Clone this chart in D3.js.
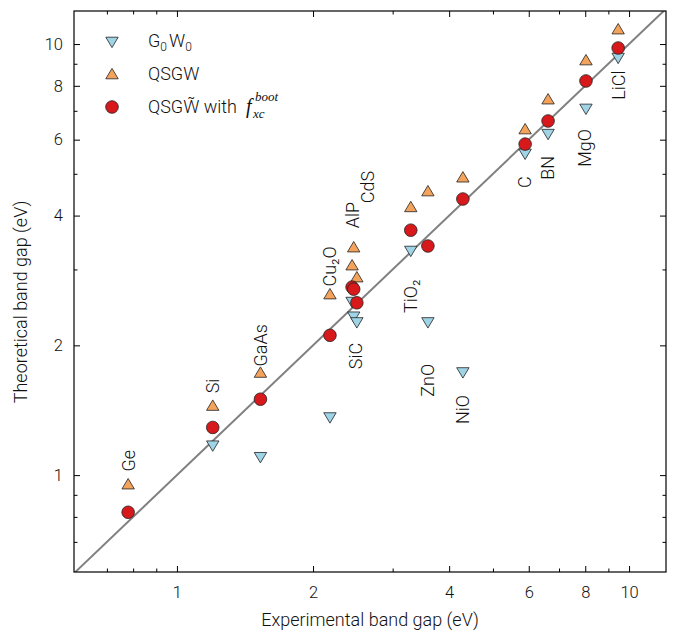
<!DOCTYPE html>
<html>
<head>
<meta charset="utf-8">
<script src="https://cdnjs.cloudflare.com/ajax/libs/d3/7.8.5/d3.min.js"></script>
<style>
  html, body { margin: 0; padding: 0; background: #fff; }
  svg text { font-family: Roboto, 'Liberation Sans', Arial, sans-serif; font-weight: 300; fill: #111; }
</style>
</head>
<body>
<div id="chart"></div>
<script>
// band gaps in eV
var materials = ['Ge', 'Si', 'GaAs', 'Cu\u2082O', 'SiC', 'AlP', 'CdS', 'TiO\u2082', 'ZnO', 'NiO', 'C', 'BN', 'MgO', 'LiCl'];
var experimental = [0.78, 1.20, 1.53, 2.18, 2.44, 2.46, 2.50, 3.29, 3.59, 4.29, 5.89, 6.62, 8.03, 9.46];
var g0w0 = [null, 1.17, 1.10, 1.36, 2.52, 2.33, 2.26, 3.31, 2.26, 1.73, 5.56, 6.18, 7.07, 9.28];
var qsgw = [0.953, 1.45, 1.73, 2.63, 3.07, 3.38, 2.88, 4.19, 4.56, 4.91, 6.35, 7.45, 9.18, 10.83];
var qsgwBoot = [0.82, 1.29, 1.50, 2.11, 2.73, 2.70, 2.51, 3.70, 3.40, 4.37, 5.86, 6.63, 8.21, 9.79];
// where each material name sits, in eV (x, y)
var labelX = [0.78, 1.20, 1.53, 2.18, 2.48, 2.45, 2.64, 3.29, 3.59, 4.29, 5.86, 6.60, 7.98, 9.50];
var labelY = [1.08, 1.61, 2.00, 3.05, 1.89, 4.01, 4.66, 2.60, 1.66, 1.42, 4.78, 5.16, 5.74, 8.03];

var xTicks = [1, 2, 4, 6, 8, 10];
var yTicks = [1, 2, 4, 6, 8, 10];
var minorTicks = [0.7, 0.8, 0.9, 3, 5, 7, 9];

var width = 674, height = 634;
var margin = { top: 11, right: 8, bottom: 62, left: 74 };
var plotW = width - margin.left - margin.right;
var plotH = height - margin.top - margin.bottom;

var x = d3.scaleLog().domain([0.592, 12.07]).range([0, plotW]);
var y = d3.scaleLog().domain([0.596, 11.93]).range([plotH, 0]);

var sans = "Roboto, 'Liberation Sans', Arial, sans-serif";
var serif = "'Liberation Serif', 'DejaVu Serif', serif";

var svg = d3.select('#chart').append('svg')
  .attr('width', width)
  .attr('height', height);

var g = svg.append('g')
  .attr('transform', 'translate(' + margin.left + ',' + margin.top + ')');

g.append('clipPath').attr('id', 'plot-clip')
  .append('rect').attr('width', plotW).attr('height', plotH);

// y = x reference line
var diag = d3.line()
  .x(function(d) { return x(d); })
  .y(function(d) { return y(d); });
g.append('path')
  .datum([0.5, 14])
  .attr('clip-path', 'url(#plot-clip)')
  .attr('d', diag)
  .attr('fill', 'none')
  .attr('stroke', '#808080')
  .attr('stroke-width', 2);

// axes: ticks point inward on all four sides
function styleAxis(sel) {
  sel.select('.domain').remove();
  sel.selectAll('line').attr('stroke', '#000').attr('stroke-width', 1);
  sel.selectAll('text').attr('font-size', 16.5).attr('fill', '#111')
    .style('font-family', sans).style('font-weight', 300);
}

g.append('g').attr('transform', 'translate(0,' + plotH + ')')
  .call(d3.axisBottom(x).tickValues(xTicks).tickFormat(d3.format('d')).tickSize(-6).tickPadding(14))
  .call(styleAxis);
g.append('g').attr('transform', 'translate(0,' + plotH + ')')
  .call(d3.axisBottom(x).tickValues(minorTicks).tickFormat('').tickSize(-3.5))
  .call(styleAxis);
g.append('g')
  .call(d3.axisTop(x).tickValues(xTicks).tickFormat('').tickSize(-6))
  .call(styleAxis);
g.append('g')
  .call(d3.axisTop(x).tickValues(minorTicks).tickFormat('').tickSize(-3.5))
  .call(styleAxis);

g.append('g')
  .call(d3.axisLeft(y).tickValues(yTicks).tickFormat(d3.format('d')).tickSize(-6).tickPadding(11))
  .call(styleAxis);
g.append('g')
  .call(d3.axisLeft(y).tickValues(minorTicks).tickFormat('').tickSize(-3.5))
  .call(styleAxis);
g.append('g').attr('transform', 'translate(' + plotW + ',0)')
  .call(d3.axisRight(y).tickValues(yTicks).tickFormat('').tickSize(-6))
  .call(styleAxis);
g.append('g').attr('transform', 'translate(' + plotW + ',0)')
  .call(d3.axisRight(y).tickValues(minorTicks).tickFormat('').tickSize(-3.5))
  .call(styleAxis);

g.append('rect')
  .attr('width', plotW)
  .attr('height', plotH)
  .attr('fill', 'none')
  .attr('stroke', '#000')
  .attr('stroke-width', 1.2);

// markers
var triDown = 'M-6.2,-4.8L6.2,-4.8L0,5.6Z';
var triUp = 'M-6.2,4.8L6.2,4.8L0,-5.6Z';
var colG0W0 = '#9fd3e6', colQSGW = '#f4a35c', colBoot = '#d7191c';

function pts(vals) {
  return vals.map(function(v, i) { return { x: experimental[i], y: v }; })
    .filter(function(d) { return d.y != null; });
}

g.append('g').selectAll('path')
  .data(pts(g0w0))
  .join('path')
  .attr('transform', function(d) { return 'translate(' + x(d.x) + ',' + y(d.y) + ')'; })
  .attr('d', triDown)
  .attr('fill', colG0W0)
  .attr('stroke', '#222')
  .attr('stroke-width', 0.8);

g.append('g').selectAll('path')
  .data(pts(qsgw))
  .join('path')
  .attr('transform', function(d) { return 'translate(' + x(d.x) + ',' + y(d.y) + ')'; })
  .attr('d', triUp)
  .attr('fill', colQSGW)
  .attr('stroke', '#222')
  .attr('stroke-width', 0.8);

g.append('g').selectAll('circle')
  .data(pts(qsgwBoot))
  .join('circle')
  .attr('cx', function(d) { return x(d.x); })
  .attr('cy', function(d) { return y(d.y); })
  .attr('r', 6.3)
  .attr('fill', colBoot)
  .attr('stroke', '#222')
  .attr('stroke-width', 0.8);

// material names, rotated
g.append('g').selectAll('text')
  .data(materials)
  .join('text')
  .attr('transform', function(d, i) {
    return 'translate(' + x(labelX[i]) + ',' + y(labelY[i]) + ') rotate(-90)';
  })
  .attr('text-anchor', 'middle')
  .attr('dominant-baseline', 'central')
  .attr('font-size', 18)
  .text(function(d) { return d; });

// legend
var legend = svg.append('g').attr('transform', 'translate(112,0)');
legend.append('path').attr('transform', 'translate(0,42)').attr('d', triDown)
  .attr('fill', colG0W0).attr('stroke', '#222').attr('stroke-width', 0.8);
legend.append('path').attr('transform', 'translate(0,74)').attr('d', triUp)
  .attr('fill', colQSGW).attr('stroke', '#222').attr('stroke-width', 0.8);
legend.append('circle').attr('cx', 0).attr('cy', 107).attr('r', 6.3)
  .attr('fill', colBoot).attr('stroke', '#222').attr('stroke-width', 0.8);

var t1 = legend.append('text').attr('x', 36).attr('y', 47).attr('font-size', 18);
t1.append('tspan').text('G');
t1.append('tspan').attr('font-size', 12).attr('dy', 4).text('0');
t1.append('tspan').attr('dy', -4).attr('dx', 2).text('W');
t1.append('tspan').attr('font-size', 12).attr('dy', 4).text('0');

legend.append('text').attr('x', 36).attr('y', 80).attr('font-size', 18).text('QSGW');

var t3 = legend.append('text').attr('x', 36).attr('y', 113).attr('font-size', 18)
  .text('QSGW\u0303 with');
var fx = 36 + t3.node().getComputedTextLength() + 9;
legend.append('text').attr('x', fx).attr('y', 113).attr('font-size', 20)
  .style('font-family', serif).style('font-style', 'italic').style('font-weight', 400)
  .text('f');
legend.append('text').attr('x', fx + 7).attr('y', 118).attr('font-size', 13)
  .style('font-family', serif).style('font-style', 'italic').style('font-weight', 400)
  .text('xc');
legend.append('text').attr('x', fx + 9).attr('y', 101).attr('font-size', 13)
  .style('font-family', serif).style('font-style', 'italic').style('font-weight', 400)
  .text('boot');

// axis titles
svg.append('text')
  .attr('x', margin.left + plotW / 2)
  .attr('y', 626)
  .attr('text-anchor', 'middle')
  .attr('font-size', 18)
  .text('Experimental band gap (eV)');

svg.append('text')
  .attr('transform', 'translate(27,302) rotate(-90)')
  .attr('text-anchor', 'middle')
  .attr('font-size', 18)
  .text('Theoretical band gap (eV)');
</script>
</body>
</html>
